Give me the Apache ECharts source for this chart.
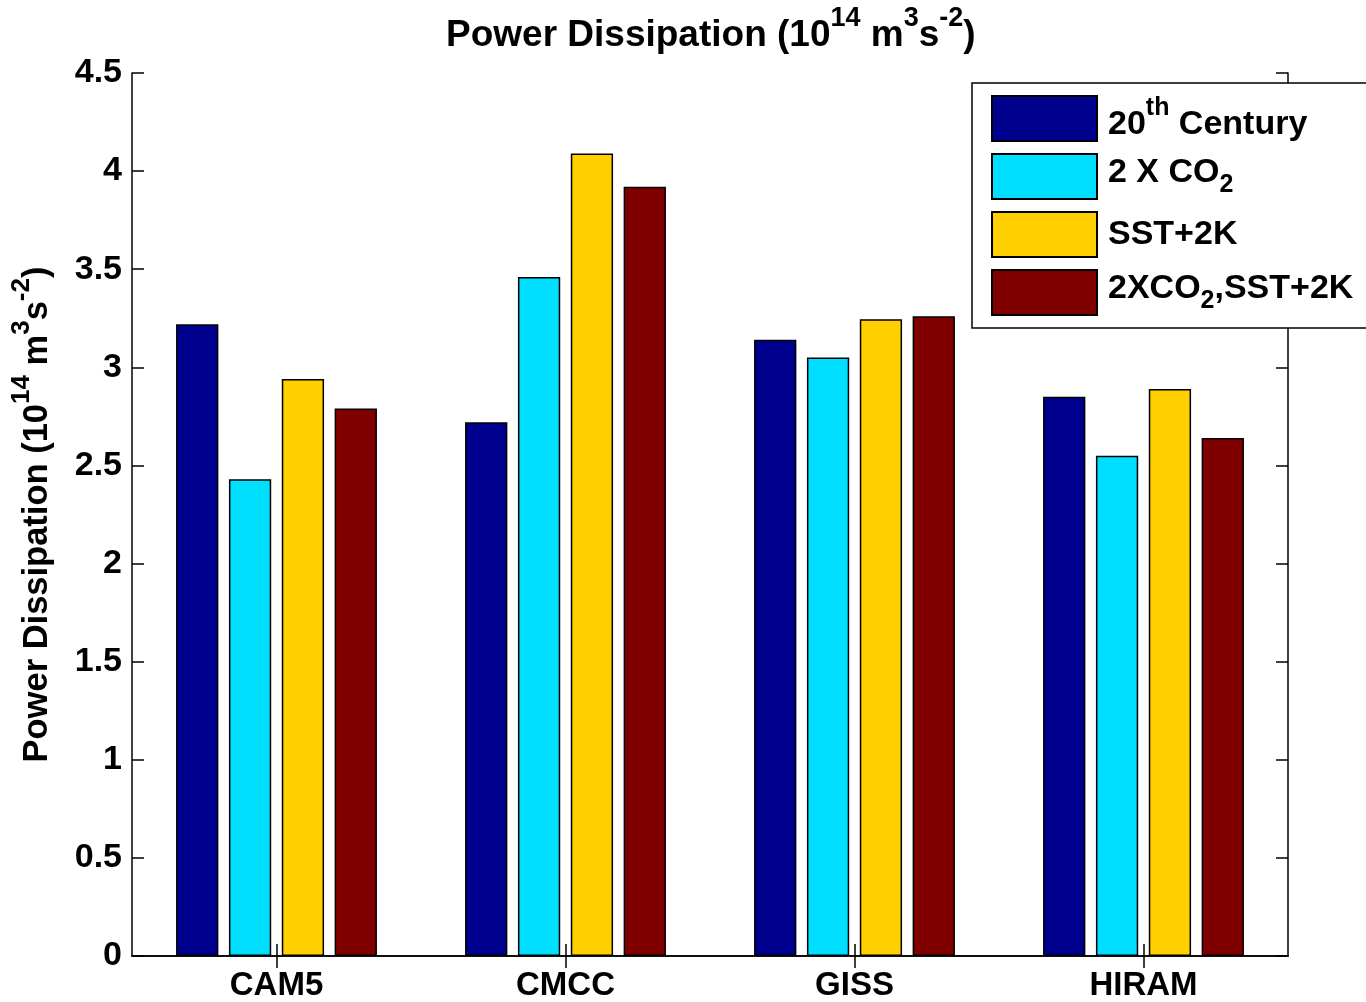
<!DOCTYPE html>
<html>
<head>
<meta charset="utf-8">
<script src="https://cdn.jsdelivr.net/npm/echarts@6/dist/echarts.min.js"></script>
<style>
  html, body { margin: 0; padding: 0; background: #fff; }
  #chart { width: 1366px; height: 1002px; }
</style>
</head>
<body>
<div id="chart"></div>
<script>
// models on the x axis
var models = ['CAM5', 'CMCC', 'GISS', 'HIRAM'];

// power dissipation values (10^14 m^3 s^-2), one array per experiment
var century20 = [3.22, 2.72, 3.14, 2.85];
var co2x2 = [2.43, 3.46, 3.05, 2.55];
var sst2k = [2.94, 4.09, 3.245, 2.89];
var co2sst = [2.79, 3.92, 3.26, 2.64];

var seriesNames = ['20th Century', '2 X CO2', 'SST+2K', '2XCO2,SST+2K'];
var seriesData = [century20, co2x2, sst2k, co2sst];
var colors = ['#00008F', '#00DFFF', '#FFCF00', '#800000'];

// y tick settings
var yMin = 0, yMax = 4.5, yStep = 0.5;

var FONT = 'Liberation Sans, Arial, sans-serif';

// rich text pieces for super/subscripts
function richSet(size) {
    var small = Math.round(size * 0.74);
    var base = { fontWeight: 'bold', fontFamily: FONT, color: '#000' };
    return {
        pl: Object.assign({ fontSize: size, lineHeight: size }, base),
        up: Object.assign({ fontSize: size, lineHeight: size + 12, verticalAlign: 'bottom' }, base),
        sup: Object.assign({ fontSize: small, lineHeight: small, verticalAlign: 'top' }, base),
        dn: Object.assign({ fontSize: size, lineHeight: size + 8, verticalAlign: 'top' }, base),
        sub: Object.assign({ fontSize: small, lineHeight: 10, verticalAlign: 'bottom' }, base)
    };
}

var unitText = '{up|Power Dissipation (10}{sup|14}{up| m}{sup|3}{up|s}{sup|-2}{up|)}';

var legendText = {
    '20th Century': '{up|20}{sup|th}{up| Century}',
    '2 X CO2': '{dn|2 X CO}{sub|2}',
    'SST+2K': '{pl|SST+2K}',
    '2XCO2,SST+2K': '{dn|2XCO}{sub|2}{dn|,SST+2K}'
};

var chart = echarts.init(document.getElementById('chart'));

var axisLine = { show: true, lineStyle: { color: '#000', width: 1.5 } };
var tickIn = { show: true, inside: true, length: 12, lineStyle: { color: '#000', width: 1.5 } };

var series = [];
for (var i = 0; i < seriesNames.length; i++) {
    series.push({
        name: seriesNames[i],
        type: 'bar',
        data: seriesData[i],
        barGap: '25%',
        barCategoryGap: '30.5%',
        itemStyle: { color: colors[i], borderColor: '#000', borderWidth: 1.5 }
    });
}

var option = {
    backgroundColor: '#fff',
    animation: false,
    title: {
        text: unitText,
        left: 441,
        top: 0,
        textStyle: { rich: richSet(37) }
    },
    grid: { left: 132, right: 78, top: 73, bottom: 46, containLabel: false, outerBoundsMode: 'none' },
    legend: {
        orient: 'vertical',
        left: 972,
        top: 83,
        padding: [12, 20, 12, 19],
        backgroundColor: '#fff',
        borderColor: '#000',
        borderWidth: 1.5,
        itemWidth: 105,
        itemHeight: 45,
        itemGap: 11,
        icon: 'rect',
        data: seriesNames,
        formatter: function (name) { return legendText[name]; },
        textStyle: { padding: [0, 0, 0, 6], rich: richSet(34) }
    },
    xAxis: [{
        type: 'category',
        data: models,
        position: 'bottom',
        axisLine: axisLine,
        axisTick: Object.assign({ alignWithLabel: true }, tickIn),
        axisLabel: { color: '#000', fontSize: 33, fontWeight: 'bold', fontFamily: FONT, margin: 13 },
        splitLine: { show: false }
    }, {
        type: 'category',
        data: models,
        position: 'top',
        axisLine: axisLine,
        axisTick: Object.assign({ alignWithLabel: true }, tickIn),
        axisLabel: { show: false },
        splitLine: { show: false }
    }],
    yAxis: [{
        type: 'value',
        min: yMin,
        max: yMax,
        interval: yStep,
        position: 'left',
        axisLine: axisLine,
        axisTick: tickIn,
        axisLabel: { color: '#000', fontSize: 34, fontWeight: 'bold', fontFamily: FONT, margin: 10 },
        splitLine: { show: false },
        name: unitText,
        nameLocation: 'middle',
        nameRotate: 90,
        nameGap: 77,
        nameTextStyle: { rich: richSet(34.5) }
    }, {
        type: 'value',
        min: yMin,
        max: yMax,
        interval: yStep,
        position: 'right',
        axisLine: axisLine,
        axisTick: tickIn,
        axisLabel: { show: false },
        splitLine: { show: false }
    }],
    series: series
};

chart.setOption(option);
</script>
</body>
</html>
